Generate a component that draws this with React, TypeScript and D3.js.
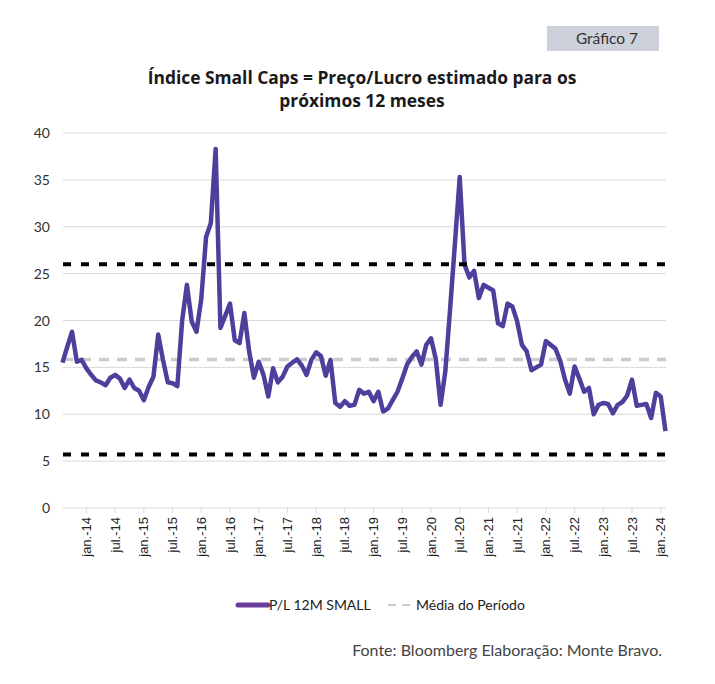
import { useEffect, useRef } from "react";
import * as d3 from "d3";

// monthly P/L, Aug 2013 .. Feb 2024
const START = new Date(2013, 7, 1);
const PL_SMALL = [
  15.5, 17.2, 18.8, 15.6, 15.8, 14.9, 14.2, 13.6, 13.4, 13.1, 13.9, 14.2, 13.8, 12.8, 13.7, 12.8,
  12.5, 11.5, 12.9, 14.0, 18.5, 15.8, 13.4, 13.3, 13.0, 20.0, 23.8, 19.9, 18.8, 22.3, 28.9, 30.4,
  38.3, 19.2, 20.5, 21.8, 17.9, 17.6, 20.8, 16.7, 13.9, 15.6, 14.2, 11.9, 14.9, 13.4, 14.0, 15.1,
  15.5, 15.85, 15.2, 14.2, 15.8, 16.6, 16.2, 14.1, 15.8, 11.2, 10.8, 11.4, 10.9, 11.0, 12.6, 12.2,
  12.4, 11.4, 12.4, 10.3, 10.6, 11.5, 12.4, 13.8, 15.3, 16.1, 16.7, 15.3, 17.4, 18.1, 15.9, 11.0,
  14.6, 21.3, 28.2, 35.3, 26.0, 24.6, 25.3, 22.4, 23.8, 23.5, 23.2, 19.7, 19.4, 21.8, 21.5, 19.9,
  17.4, 16.7, 14.7, 15.0, 15.3, 17.8, 17.4, 17.0, 15.7, 13.7, 12.2, 15.1, 13.8, 12.4, 12.8, 10.0,
  11.0, 11.2, 11.1, 10.1, 11.0, 11.3, 12.0, 13.7, 10.9, 11.0, 11.1, 9.6, 12.3, 11.9, 8.2,
];
const MEAN = 15.85;
const UPPER = 26.0;
const LOWER = 5.7;
const Y_TICKS = [0, 5, 10, 15, 20, 25, 30, 35, 40];
const MONTHS_PT = ["jan.", "fev.", "mar.", "abr.", "mai.", "jun.", "jul.", "ago.", "set.", "out.", "nov.", "dez."];

const PURPLE = "#4d3f9b";

export default function App() {
  const ref = useRef<SVGSVGElement>(null);

  useEffect(() => {
    if (!ref.current) return;
    const W = 715;
    const H = 684;
    const svg = d3.select(ref.current);
    svg.selectAll("*").remove();
    svg.attr("width", W).attr("height", H);

    const dates = PL_SMALL.map((_, i) => new Date(START.getFullYear(), START.getMonth() + i, 1));
    const x = d3.scaleLinear().domain([0, PL_SMALL.length - 1]).range([62.5, 665.5]);
    const y = d3.scaleLinear().domain([0, 40]).range([508, 133]);
    const x0 = 63;
    const x1 = 666;

    svg.append("rect").attr("width", W).attr("height", H).attr("fill", "#fff");

    // badge
    svg.append("rect").attr("x", 547).attr("y", 26).attr("width", 112).attr("height", 25).attr("fill", "#cdd2da");
    svg.append("text").attr("x", 607).attr("y", 44).attr("text-anchor", "middle")
      .attr("font-family", "Lato, sans-serif").attr("font-size", 15.5).attr("fill", "#333")
      .text("Gráfico 7");

    // title
    const title = svg.append("text").attr("text-anchor", "middle")
      .attr("font-family", "'Open Sans', sans-serif").attr("font-weight", 700).attr("font-size", 17.4).attr("fill", "#1a1a1a");
    title.append("tspan").attr("x", 362).attr("y", 84).text("Índice Small Caps = Preço/Lucro estimado para os");
    title.append("tspan").attr("x", 362).attr("y", 107).text("próximos 12 meses");

    // grid + y labels
    const grid = svg.append("g");
    grid.selectAll("line").data(Y_TICKS).join("line")
      .attr("x1", x0).attr("x2", x1).attr("y1", (d) => y(d)).attr("y2", (d) => y(d))
      .attr("stroke", "#d9d9d9").attr("stroke-width", 1);
    grid.selectAll("text").data(Y_TICKS).join("text")
      .attr("x", 50).attr("y", (d) => y(d) + 5).attr("text-anchor", "end")
      .attr("font-family", "Lato, sans-serif").attr("font-size", 14).attr("fill", "#333")
      .text((d) => String(d));

    // x ticks: jan and jul
    const tickIdx = dates.map((d, i) => ({ d, i })).filter(({ d }) => d.getMonth() === 0 || d.getMonth() === 6);
    const xt = svg.append("g");
    xt.selectAll("line").data(tickIdx).join("line")
      .attr("x1", (t) => x(t.i)).attr("x2", (t) => x(t.i)).attr("y1", 508).attr("y2", 513)
      .attr("stroke", "#d9d9d9");
    xt.selectAll("text").data(tickIdx).join("text")
      .attr("transform", (t) => `translate(${x(t.i) + 4.5},517) rotate(-90)`)
      .attr("text-anchor", "end")
      .attr("font-family", "'Liberation Sans', Arial, sans-serif").attr("font-size", 13).attr("fill", "#222")
      .text((t) => `${MONTHS_PT[t.d.getMonth()]}-${String(t.d.getFullYear()).slice(2)}`);

    // mean line under the series
    svg.append("line").attr("x1", x0).attr("x2", x1).attr("y1", y(MEAN)).attr("y2", y(MEAN))
      .attr("stroke", "#cccccc").attr("stroke-width", 3.5).attr("stroke-dasharray", "10 8");

    const line = d3.line<number>().x((_, i) => x(i)).y((d) => y(d));
    svg.append("path").datum(PL_SMALL).attr("d", line).attr("fill", "none")
      .attr("stroke", PURPLE).attr("stroke-width", 4.5).attr("stroke-linejoin", "round");

    // band lines on top
    svg.append("g").selectAll("line").data([UPPER, LOWER]).join("line")
      .attr("x1", x0).attr("x2", x1).attr("y1", (v) => y(v)).attr("y2", (v) => y(v))
      .attr("stroke", "#000").attr("stroke-width", 4).attr("stroke-dasharray", "8 10");

    // legend
    const lg = svg.append("g").attr("font-family", "Lato, sans-serif").attr("font-size", 14).attr("fill", "#222");
    lg.append("line").attr("x1", 238).attr("x2", 268).attr("y1", 605).attr("y2", 605)
      .attr("stroke", "#6a3d9a").attr("stroke-width", 5).attr("stroke-linecap", "round");
    lg.append("text").attr("x", 269).attr("y", 610).text("P/L 12M SMALL");
    lg.append("line").attr("x1", 388).attr("x2", 413).attr("y1", 605).attr("y2", 605)
      .attr("stroke", "#cccccc").attr("stroke-width", 2).attr("stroke-dasharray", "8 6");
    lg.append("text").attr("x", 416).attr("y", 610).text("Média do Período");

    svg.append("text").attr("x", 662).attr("y", 656).attr("text-anchor", "end")
      .attr("font-family", "Lato, sans-serif").attr("font-size", 16).attr("fill", "#444")
      .text("Fonte: Bloomberg Elaboração: Monte Bravo.");
  }, []);

  return <svg ref={ref} style={{ position: "absolute", left: 0, top: 0 }} />;
}
